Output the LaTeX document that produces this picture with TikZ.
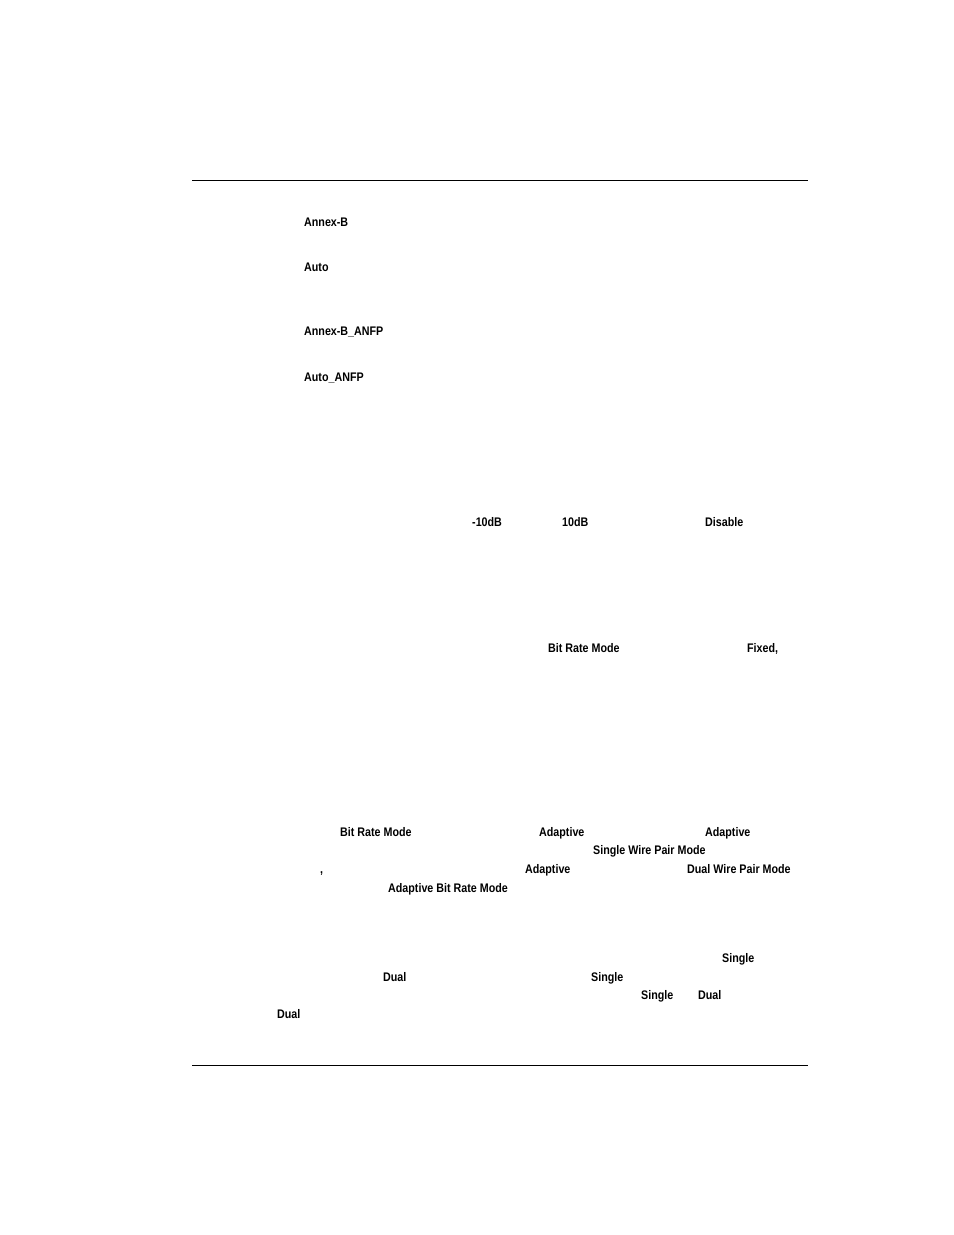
\documentclass[tikz,border=0pt]{standalone}
\usepackage{fontspec}
\setmainfont{Liberation Sans}[FakeStretch=0.86]
\begin{document}
\begin{tikzpicture}[x=1bp,y=-1bp,t/.style={anchor=base west,inner sep=0pt,font=\bfseries\fontsize{12.5}{14}\selectfont}]
\useasboundingbox (0,0) rectangle (954,1235);
\draw[line width=0.8bp] (192,180) -- (808,180);
\draw[line width=0.8bp] (192,1065) -- (808,1065);
\node[t] (a1) at (304,226) {Annex-B};
\node[t] (a2) at (304,271) {Auto};
\node[t] (a3) at (304,335) {Annex-B\_ANFP};
\node[t] (a4) at (304,381) {Auto\_ANFP};
\node[t] (b1) at (472,526) {-10dB};
\node[t] (b2) at (562,526) {10dB};
\node[t] (b3) at (705,526) {Disable};
\node[t] (c1) at (548,652) {Bit Rate Mode};
\node[t] (c2) at (747,652) {Fixed,};
\node[t] (d1) at (340,836) {Bit Rate Mode};
\node[t] (d2) at (539,836) {Adaptive};
\node[t] (d3) at (705,836) {Adaptive};
\node[t] (d4) at (593,854) {Single Wire Pair Mode};
\node[t] (d5) at (320,873) {,};
\node[t] (d6) at (525,873) {Adaptive};
\node[t] (d7) at (687,873) {Dual Wire Pair Mode};
\node[t] (d8) at (388,892) {Adaptive Bit Rate Mode};
\node[t] (e1) at (722,962) {Single};
\node[t] (e2) at (383,981) {Dual};
\node[t] (e3) at (591,981) {Single};
\node[t] (e4) at (641,999) {Single};
\node[t] (e5) at (698,999) {Dual};
\node[t] (e6) at (277,1018) {Dual};
\end{tikzpicture}
\end{document}
